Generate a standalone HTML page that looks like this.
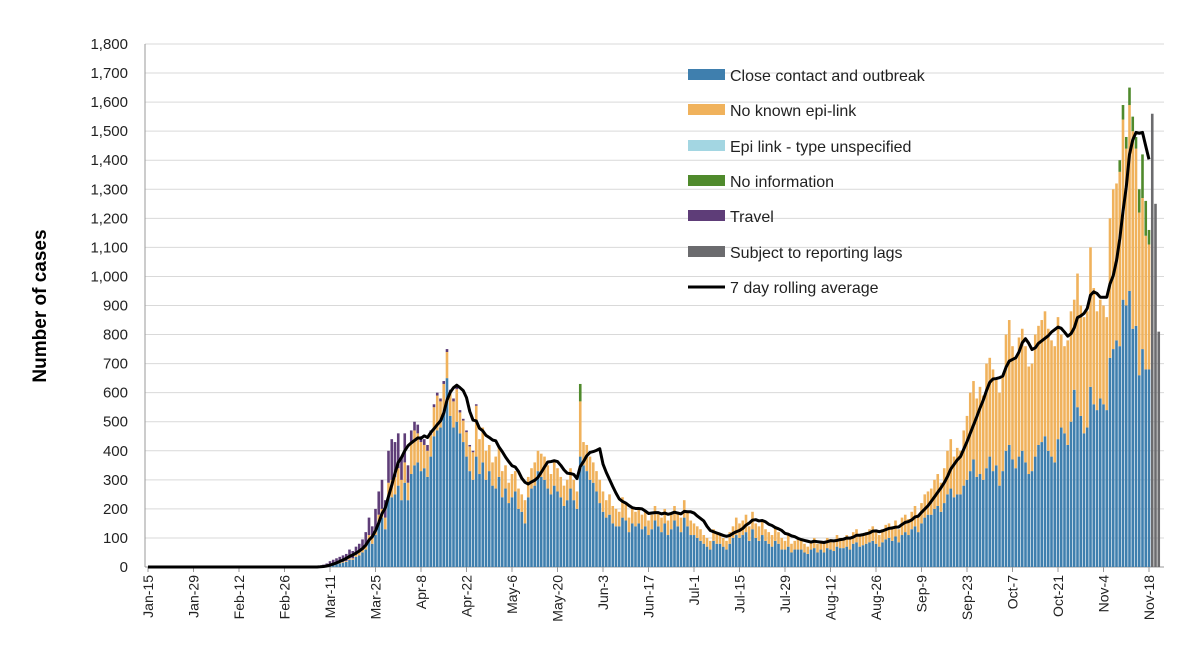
<!DOCTYPE html>
<html><head><meta charset="utf-8"><style>
body{margin:0;background:#fff;}
svg{display:block;font-family:"Liberation Sans",sans-serif;}
</style></head><body>
<svg id="chart" width="1200" height="669" viewBox="0 0 1200 669" xmlns="http://www.w3.org/2000/svg">
<g id="grid"></g>
<g id="yticks"></g>
<g id="xticks"></g>
<g id="bars"></g>
<g id="line"></g>
<text transform="translate(46,306) rotate(-90)" text-anchor="middle" font-size="19" font-weight="bold" fill="#000">Number of cases</text>
<g font-size="16" fill="#222">
<g><rect x="688" y="69" width="37" height="11" fill="#3f7fae"/><text x="730" y="81">Close contact and outbreak</text></g>
<g><rect x="688" y="104" width="37" height="11" fill="#f0b25c"/><text x="730" y="116">No known epi-link</text></g>
<g><rect x="688" y="140" width="37" height="11" fill="#a3d6e2"/><text x="730" y="152">Epi link - type unspecified</text></g>
<g><rect x="688" y="175" width="37" height="11" fill="#4f8a2c"/><text x="730" y="187">No information</text></g>
<g><rect x="688" y="210" width="37" height="11" fill="#5e3d78"/><text x="730" y="222">Travel</text></g>
<g><rect x="688" y="246" width="37" height="11" fill="#6b6b6e"/><text x="730" y="258">Subject to reporting lags</text></g>
<g><line x1="688" y1="287" x2="725" y2="287" stroke="#000" stroke-width="3"/><text x="730" y="293">7 day rolling average</text></g>
</g>
</svg>
<script>
const tickLabels=["Jan-15","Jan-29","Feb-12","Feb-26","Mar-11","Mar-25","Apr-8","Apr-22","May-6","May-20","Jun-3","Jun-17","Jul-1","Jul-15","Jul-29","Aug-12","Aug-26","Sep-9","Sep-23","Oct-7","Oct-21","Nov-4","Nov-18"];
const yTicks=[0,100,200,300,400,500,600,700,800,900,1000,1100,1200,1300,1400,1500,1600,1700,1800];
const totals=[0,0,0,0,0,0,0,0,0,0,0,0,0,0,0,0,0,0,0,0,0,0,0,0,0,0,0,0,0,0,0,0,0,0,0,0,0,0,0,0,0,0,0,0,0,0,0,0,0,0,0,0,0,
5,8,12,20,25,30,35, 40,45,60,55,70,80,95, 120,170,140,200,260,300,230, 400,440,430,460,380,460,350,
470,500,490,450,440,420,470, 560,600,580,640,750,610,580, 620,540,510,470,420,400,560, 440,480,400,420,360,380,410,
330,350,290,320,330,270,250, 230,310,340,360,400,390,380, 350,320,360,340,310,280,300, 340,300,260,630,430,420,380,
360,330,300,260,230,250,210, 200,190,240,220,170,200,190, 200,180,190,160,180,210,190, 170,200,160,180,210,190,170,
230,190,160,150,140,130,110, 100,90,130,120,110,100,90, 120,140,170,150,160,180,140, 190,150,140,160,130,120,110,
140,120,100,90,110,80,90, 100,90,80,70,90,100,80, 90,80,100,95,85,110,100, 100,110,95,120,130,110,115,
120,130,140,125,110,130,145, 150,140,160,130,170,180,165, 190,210,180,220,250,260,270, 300,320,290,340,400,440,380,
410,400,470,520,600,640,580, 620,590,700,720,680,650,600, 660,800,850,760,720,790,820, 760,690,700,800,830,850,880,
820,780,760,860,800,760,780, 880,920,1010,900,860,880,1100, 960,880,920,900,860,1200,1300, 1320,1400,1590,1480,1650,1550,1480,
1300,1420,1260,1160];
const blue=[0,0,0,0,0,0,0,0,0,0,0,0,0,0,0,0,0,0,0,0,0,0,0,0,0,0,0,0,0,0,0,0,0,0,0,0,0,0,0,0,0,0,0,0,0,0,0,0,0,0,0,0,0,
1,2,4,6,8,10,12, 15,18,25,25,35,40,50, 60,90,80,110,150,170,130, 240,240,250,280,230,290,230,
320,350,360,330,340,310,380, 450,470,480,530,650,520,480, 500,460,430,380,330,300,380, 320,360,300,330,280,270,310,
240,270,220,240,260,200,190, 150,240,270,280,330,310,300, 270,250,280,260,240,210,230, 270,230,200,380,350,330,300,
290,260,220,190,170,180,150, 140,140,170,160,120,150,140, 150,130,140,110,130,160,140, 120,150,110,130,160,140,120,
170,140,110,110,100,90,80, 70,60,90,80,80,70,60, 80,100,110,100,110,120,90, 130,100,90,110,90,80,70,
90,80,60,60,70,50,60, 60,60,50,45,60,65,50, 60,50,65,60,55,70,65, 65,70,60,80,85,70,75,
80,85,90,80,70,85,95, 100,90,105,85,110,120,110, 130,140,120,150,170,180,180, 200,210,190,220,250,270,240,
250,250,280,300,330,370,310, 320,300,340,380,330,350,280, 330,400,420,370,340,380,400, 360,320,330,380,420,430,450,
400,380,360,440,480,460,420, 500,610,550,520,460,480,620, 560,540,580,560,540,720,750, 780,760,920,900,950,820,830,
660,750,680,680];
const travel=[0,0,0,0,0,0,0,0,0,0,0,0,0,0,0,0,0,0,0,0,0,0,0,0,0,0,0,0,0,0,0,0,0,0,0,0,0,0,0,0,0,0,0,0,0,0,0,0,0,0,0,0,0,
3,5,7,12,14,16,18, 22,24,30,25,28,30,35, 45,60,40,70,80,100,60, 110,140,120,120,80,100,60,
40,30,30,20,20,20,15, 10,10,10,10,10,10,10, 8,8,6,6,5,5,5];
const noinfo={133:60,299:40,300:50,301:40,302:60,303:50,304:40,305:80,306:150,307:120,308:50};
const lagStart=309;
const lagValues=[1560,1250,810];

const NS="http://www.w3.org/2000/svg";
const X0=148,DX=3.25,Y0=567,YT=44,YMAX=1800;
const xs=d=>X0+d*DX;
const ys=v=>Y0-v*(Y0-YT)/YMAX;
function mk(tag,attrs,parent){const e=document.createElementNS(NS,tag);for(const k in attrs)e.setAttribute(k,attrs[k]);parent.appendChild(e);return e;}
const grid=document.getElementById('grid'),yt=document.getElementById('yticks'),xt=document.getElementById('xticks'),bars=document.getElementById('bars'),line=document.getElementById('line');
yTicks.forEach(v=>{
  const l=mk('line',{x1:145,x2:1164,y1:ys(v),y2:ys(v),stroke:v===0?'#999':'#d9d9d9','stroke-width':1},grid);
  
  
  const t=mk('text',{x:128,y:ys(v)+5,'text-anchor':'end','font-size':15,fill:'#222'},yt);
  
  
  t.textContent=v.toLocaleString('en-US');
});
mk('line',{x1:145,x2:145,y1:YT,y2:Y0,stroke:'#999'},grid);
tickLabels.forEach((lab,i)=>{
  const x=xs(i*14);
  mk('line',{x1:x,x2:x,y1:Y0,y2:Y0+5,stroke:'#999'},xt);
  const t=mk('text',{transform:`translate(${x+5},575) rotate(-90)`,'text-anchor':'end','font-size':14,fill:'#222'},xt);
  
  
  t.textContent=lab;
});
const W=2.6;
function seg(d,v0,v1,col){if(v1<=v0)return;const r=mk('rect',{x:xs(d)-W/2,y:ys(v1),width:W,height:ys(v0)-ys(v1),fill:col},bars);

}
totals.forEach((tot,d)=>{
  const b=blue[d]||0,tr=travel[d]||0,ni=noinfo[d]||0;
  const o=Math.max(0,tot-b-tr-ni);
  let c=0;
  seg(d,c,c+b,'#3f7fae');c+=b;
  seg(d,c,c+o,'#f0b25c');c+=o;
  seg(d,c,c+ni,'#4f8a2c');c+=ni;
  seg(d,c,c+tr,'#5e3d78');c+=tr;
});
lagValues.forEach((v,i)=>seg(lagStart+i,0,v,'#6b6b6e'));
let pts=[];
for(let d=0;d<totals.length;d++){let s=0,n=0;for(let k=Math.max(0,d-6);k<=d;k++){s+=totals[k];n++;}pts.push(xs(d)+','+ys(s/7));}
const p=mk('polyline',{points:pts.join(' '),fill:'none',stroke:'#000','stroke-width':3,'stroke-linejoin':'round'},line);


</script>
</body></html>
